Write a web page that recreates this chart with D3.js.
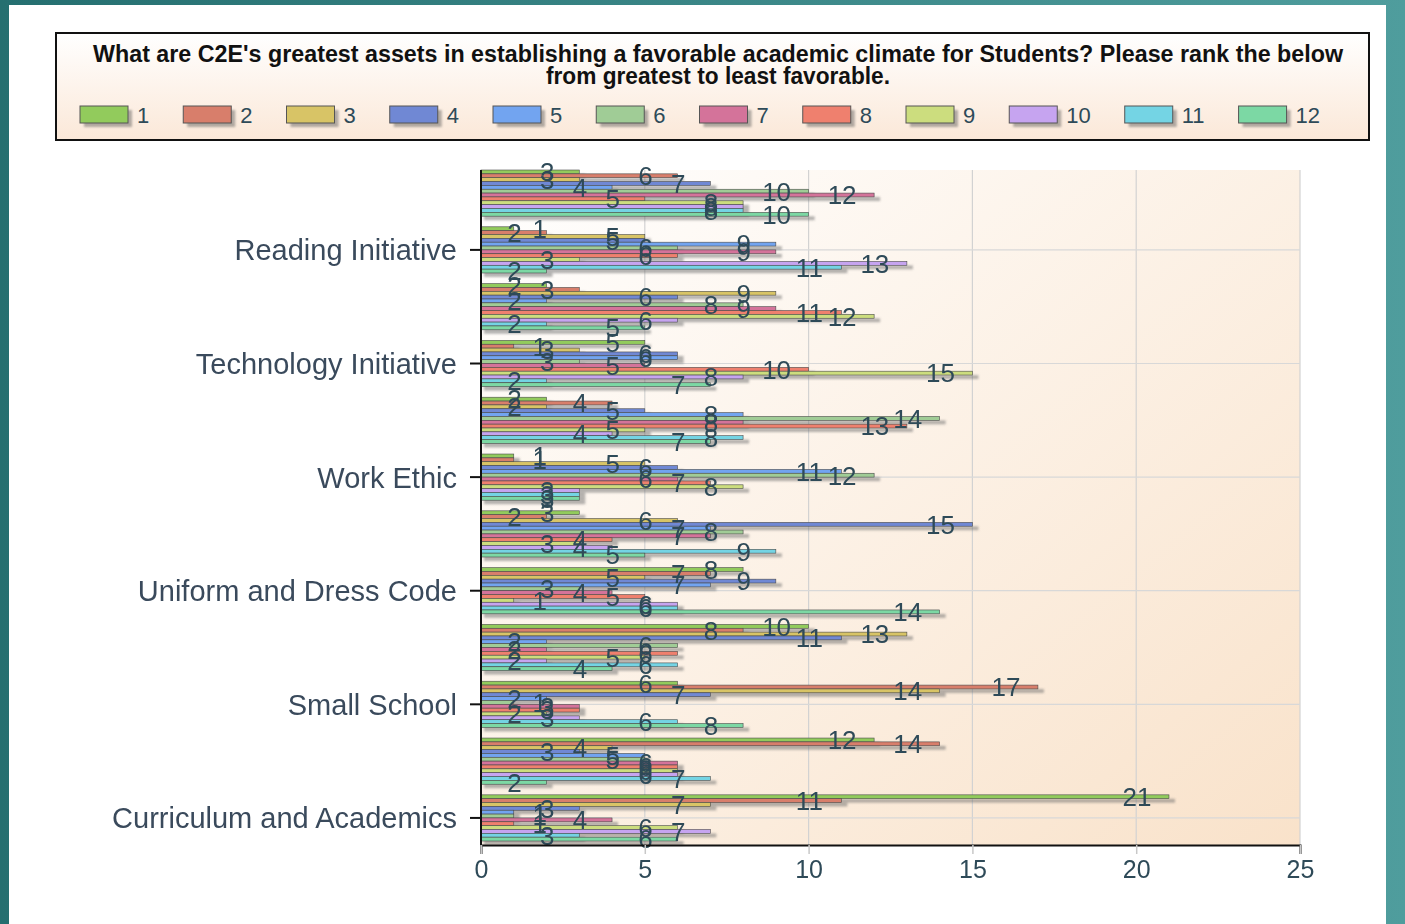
<!DOCTYPE html>
<html>
<head>
<meta charset="utf-8">
<script src="https://cdn.jsdelivr.net/npm/d3@7"></script>
<style>
  body { margin: 0; background: #fff; }
  text { font-family: "Liberation Sans", Arial, sans-serif; }
</style>
</head>
<body>
<div id="chart"></div>
<script>
// categories top to bottom; only every other one carries a label on the axis
const categories = [null, "Reading Initiative", null, "Technology Initiative", null, "Work Ethic",
                    null, "Uniform and Dress Code", null, "Small School", null, "Curriculum and Academics"];
const seriesNames = ["1", "2", "3", "4", "5", "6", "7", "8", "9", "10", "11", "12"];
const seriesColors = ["#92CB5C", "#D87E6B", "#D8C466", "#7088D4", "#72A4F0", "#A0CC96",
                      "#D4739A", "#EF806E", "#CCDD7E", "#C6A4F0", "#74D4E4", "#7CD8A4"];

// counts per rank (series 1..12) for each category row, top to bottom
const row01 = [3, 6, 3, 7, 4, 10, 12, 5, 8, 8, 8, 10];
const row02 = [1, 2, 5, 5, 9, 6, 9, 6, 3, 13, 11, 2];
const row03 = [2, 3, 9, 6, 2, 8, 9, 11, 12, 6, 2, 5];
const row04 = [5, 1, 3, 6, 6, 3, 5, 10, 15, 8, 2, 7];
const row05 = [2, 4, 2, 5, 8, 14, 8, 13, 5, 4, 8, 7];
const row06 = [1, 1, 5, 6, 11, 12, 6, 7, 8, 3, 3, 3];
const row07 = [3, 2, 6, 15, 7, 8, 7, 4, 3, 4, 9, 5];
const row08 = [8, 7, 5, 9, 7, 3, 4, 5, 1, 6, 6, 14];
const row09 = [10, 8, 13, 11, 2, 6, 2, 6, 5, 2, 6, 4];
const row10 = [6, 17, 14, 7, 2, 1, 3, 3, 2, 3, 6, 8];
const row11 = [12, 14, 4, 3, 5, 5, 6, 6, 6, 6, 7, 2];
const row12 = [21, 11, 7, 3, 1, 1, 4, 1, 6, 7, 3, 6];
const rows = [row01, row02, row03, row04, row05, row06, row07, row08, row09, row10, row11, row12];

const xTicks = [0, 5, 10, 15, 20, 25];
const titleLines = ["What are C2E's greatest assets in establishing a favorable academic climate for Students? Please rank the below",
                    "from greatest to least favorable."];

const W = 1405, H = 924;
const plot = { left: 481, right: 1300, top: 170, bottom: 845 };
const textColor = "#2e4a58";

const svg = d3.select("#chart").append("svg")
    .attr("width", W)
    .attr("height", H);
const defs = svg.append("defs");

// frame
const frameGrad = defs.append("linearGradient").attr("id", "frame-grad");
frameGrad.append("stop").attr("offset", "0%").attr("stop-color", "#256f70");
frameGrad.append("stop").attr("offset", "100%").attr("stop-color", "#4f9d9d");
svg.append("rect").attr("width", W).attr("height", H).attr("fill", "url(#frame-grad)");
svg.append("rect").attr("x", 9).attr("y", 5).attr("width", 1377).attr("height", H - 5).attr("fill", "#fff");

// title + legend box
const boxGrad = defs.append("linearGradient").attr("id", "box-grad")
    .attr("x1", 0).attr("y1", 0).attr("x2", 0).attr("y2", 1);
boxGrad.append("stop").attr("offset", "0%").attr("stop-color", "#ffffff");
boxGrad.append("stop").attr("offset", "100%").attr("stop-color", "#fbe8d8");
svg.append("rect")
    .attr("x", 56).attr("y", 33).attr("width", 1313).attr("height", 107)
    .attr("fill", "url(#box-grad)")
    .attr("stroke", "#111").attr("stroke-width", 2);

svg.append("text")
    .attr("x", 718).attr("y", 62)
    .attr("text-anchor", "middle")
    .attr("font-size", 23).attr("font-weight", "bold").attr("fill", "#111")
    .attr("textLength", 1250).attr("lengthAdjust", "spacingAndGlyphs")
    .text(titleLines[0]);
svg.append("text")
    .attr("x", 718).attr("y", 84)
    .attr("text-anchor", "middle")
    .attr("font-size", 23).attr("font-weight", "bold").attr("fill", "#111")
    .attr("textLength", 344).attr("lengthAdjust", "spacingAndGlyphs")
    .text(titleLines[1]);

const shadowBlur = defs.append("filter").attr("id", "soft")
    .attr("x", "-10%").attr("y", "-50%").attr("width", "130%").attr("height", "250%");
shadowBlur.append("feGaussianBlur").attr("stdDeviation", 1.2);

const legend = svg.append("g");
let lx = 80;
seriesNames.forEach((name, i) => {
    const g = legend.append("g").attr("transform", `translate(${lx},106)`);
    g.append("rect").attr("x", 4).attr("y", 4).attr("width", 48).attr("height", 17)
        .attr("fill", "#555").attr("opacity", 0.45).attr("filter", "url(#soft)");
    g.append("rect").attr("width", 48).attr("height", 17)
        .attr("fill", seriesColors[i]).attr("stroke", "#555").attr("stroke-width", 1);
    const t = g.append("text").attr("x", 57).attr("y", 17)
        .attr("font-size", 22).attr("fill", textColor).text(name);
    lx += 57 + t.node().getComputedTextLength() + 34;
});

// plot area
const x = d3.scaleLinear().domain([0, 25]).range([plot.left, plot.right]);
const y = d3.scaleBand().domain(d3.range(categories.length))
    .range([plot.top, plot.bottom]).paddingInner(0.187).paddingOuter(0.035).align(0);
const yInner = d3.scaleBand().domain(d3.range(seriesNames.length)).range([0, y.bandwidth()]);
const catCenter = i => y(i) + y.bandwidth() / 2;

const plotGrad = defs.append("linearGradient").attr("id", "plot-grad")
    .attr("x1", 0).attr("y1", 0).attr("x2", 1).attr("y2", 1);
plotGrad.append("stop").attr("offset", "0%").attr("stop-color", "#ffffff");
plotGrad.append("stop").attr("offset", "100%").attr("stop-color", "#f9e2ca");
svg.append("rect")
    .attr("x", plot.left).attr("y", plot.top)
    .attr("width", plot.right - plot.left).attr("height", plot.bottom - plot.top)
    .attr("fill", "url(#plot-grad)");

// grid
svg.append("g").selectAll("line").data(xTicks.slice(1)).join("line")
    .attr("x1", d => x(d)).attr("x2", d => x(d))
    .attr("y1", plot.top).attr("y2", plot.bottom)
    .attr("stroke", "#d2d2d2").attr("stroke-width", 1.2);
const labeled = categories.map((c, i) => ({ c, i })).filter(d => d.c);
svg.append("g").selectAll("line").data(labeled).join("line")
    .attr("x1", plot.left).attr("x2", plot.right)
    .attr("y1", d => catCenter(d.i)).attr("y2", d => catCenter(d.i))
    .attr("stroke", "#d8d8d8").attr("stroke-width", 1.2);

// bars
const flat = [];
rows.forEach((vals, ci) => vals.forEach((v, si) => flat.push({ ci, si, v })));
const barY = d => y(d.ci) + yInner(d.si);
const barH = yInner.bandwidth();

svg.append("g").attr("filter", "url(#soft)")
    .selectAll("rect").data(flat).join("rect")
    .attr("x", x(0) + 3).attr("y", d => barY(d) + 4)
    .attr("width", d => x(d.v) - x(0) + 3).attr("height", barH)
    .attr("fill", "#6b6b6b").attr("opacity", 0.5);

svg.append("g").selectAll("rect").data(flat).join("rect")
    .attr("x", x(0)).attr("y", barY)
    .attr("width", d => x(d.v) - x(0)).attr("height", barH)
    .attr("fill", d => seriesColors[d.si])
    .attr("stroke", "#4a4a4a").attr("stroke-width", 0.6);

// value labels
svg.append("g").selectAll("text").data(flat).join("text")
    .attr("x", d => d.v < 2 ? x(d.v) + 26 : x(d.v) - 32)
    .attr("y", d => barY(d) + barH / 2)
    .attr("dy", "0.36em")
    .attr("text-anchor", "middle")
    .attr("font-size", 26).attr("fill", textColor)
    .text(d => d.v);

// axes
const xAxis = svg.append("g").attr("transform", `translate(0,${plot.bottom})`)
    .call(d3.axisBottom(x).tickValues(xTicks).tickSize(9).tickPadding(6));
xAxis.select(".domain").attr("stroke", "#111").attr("stroke-width", 2);
xAxis.selectAll(".tick line").attr("stroke", "#c8c8c8").attr("stroke-width", 1.5);
xAxis.selectAll(".tick text").attr("font-size", 25).attr("fill", textColor)
    .attr("font-family", "Liberation Sans, Arial, sans-serif");

svg.append("line")
    .attr("x1", plot.left).attr("x2", plot.left)
    .attr("y1", plot.top).attr("y2", plot.bottom)
    .attr("stroke", "#111").attr("stroke-width", 2);
const yTicks = svg.append("g").selectAll("g").data(labeled).join("g")
    .attr("transform", d => `translate(${plot.left},${catCenter(d.i)})`);
yTicks.append("line").attr("x1", -11).attr("x2", 0).attr("stroke", "#111").attr("stroke-width", 2);
yTicks.append("text")
    .attr("x", -24).attr("dy", "0.36em")
    .attr("text-anchor", "end")
    .attr("font-size", 29).attr("fill", "#3a4a5c")
    .text(d => d.c);
</script>
</body>
</html>
